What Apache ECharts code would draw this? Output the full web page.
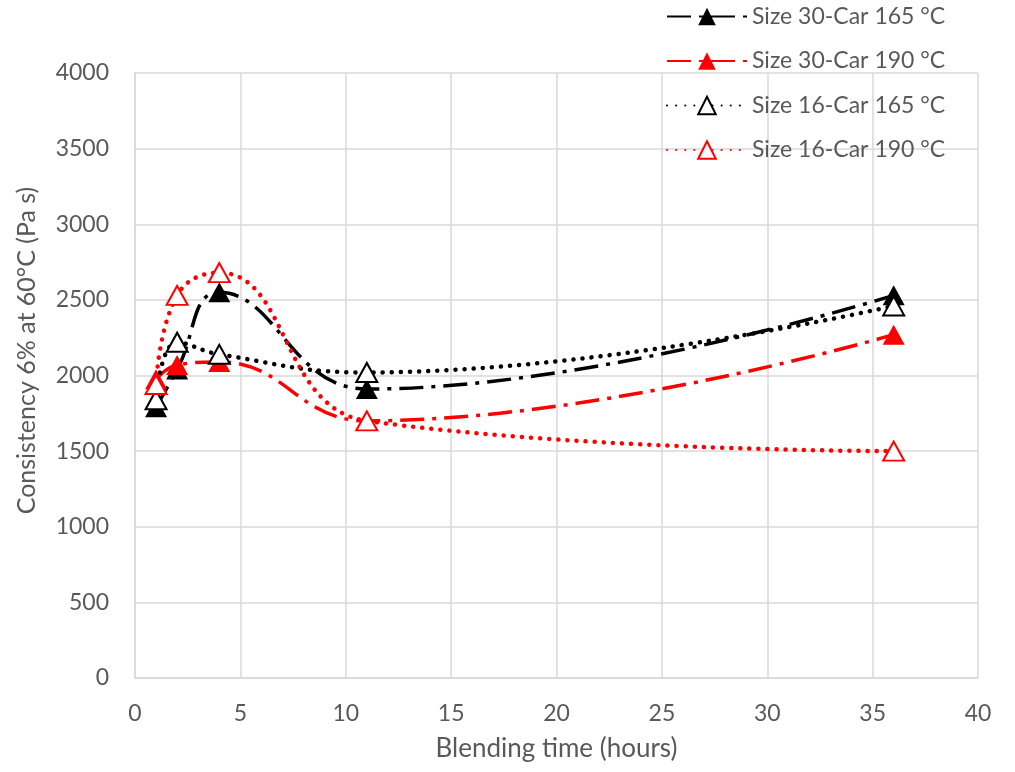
<!DOCTYPE html>
<html><head><meta charset="utf-8">
<script src="https://cdn.jsdelivr.net/npm/echarts@6/dist/echarts.min.js"></script>
<style>html,body{margin:0;padding:0;background:#fff}#c{width:1015px;height:772px}</style>
</head><body><div id="c"></div>
<script>
const xHours = [1, 2, 4, 11, 36];
const s30_165 = [1790, 2040, 2550, 1910, 2530];
const s30_190 = [1975, 2070, 2090, 1700, 2270];
const s16_165 = [1840, 2220, 2140, 2020, 2460];
const s16_190 = [1940, 2530, 2680, 1700, 1500];
const names = ['Size 30-Car 165 °C','Size 30-Car 190 °C','Size 16-Car 165 °C','Size 16-Car 190 °C'];
const FONT = 'Lato, "Open Sans", sans-serif';
const dashDot = [24, 8, 4, 8];
const dotted = [0.1, 9];
function pts(v){ return xHours.map((x,i)=>[x, v[i]]); }
function ser(name, data, color, filled, dash, cap){
  return {
    name, type:'line', data: pts(data), smooth: 0.45,
    symbol:'triangle', symbolSize: filled ? [22, 20] : [21, 19],
    itemStyle:{color: filled ? color : '#fff', borderColor: color, borderWidth: filled?0:2},
    lineStyle:{color, width: filled ? 3.5 : 4.5, type: dash, cap: cap},
    emphasis:{disabled:true}
  };
}
const chart = echarts.init(document.getElementById('c'), null, {renderer:'canvas'});
chart.setOption({
  animation:false,
  backgroundColor:'#fff',
  grid:{left:135, right:37, top:73, bottom:94},
  legend:{
    orient:'vertical', left:661, top:0, itemGap:21.5, itemWidth:80, itemHeight:22,
    textStyle:{fontFamily:FONT, fontSize:23, color:'#595959'},
    data: names
  },
  xAxis:{
    type:'value', min:0, max:40, interval:5,
    name:'Blending time (hours)', nameLocation:'middle', nameGap:58,
    nameTextStyle:{fontFamily:FONT, fontSize:26, color:'#595959'},
    axisLine:{show:true, lineStyle:{color:'#d9d9d9', width:1.5}},
    axisTick:{show:false},
    axisLabel:{fontFamily:FONT, fontSize:23, color:'#595959', margin:24},
    splitLine:{show:true, lineStyle:{color:'#d9d9d9', width:1.5}}
  },
  yAxis:{
    type:'value', min:0, max:4000, interval:500,
    name:'Consistency 6% at 60°C (Pa s)', nameLocation:'middle', nameGap:96, nameRotate:90,
    nameTextStyle:{fontFamily:FONT, fontSize:25, color:'#595959', padding:[0,0,0,50]},
    axisLine:{show:true, lineStyle:{color:'#d9d9d9', width:1.5}},
    axisTick:{show:false},
    axisLabel:{fontFamily:FONT, fontSize:23, color:'#595959', margin:26, formatter: v => String(v)},
    splitLine:{show:true, lineStyle:{color:'#d9d9d9', width:1.5}}
  },
  series:[
    ser(names[0], s30_165, '#000', true, dashDot, 'butt'),
    ser(names[1], s30_190, '#ff0000', true, dashDot, 'butt'),
    ser(names[2], s16_165, '#000', false, dotted, 'round'),
    ser(names[3], s16_190, '#ff0000', false, dotted, 'round')
  ]
});
</script></body></html>
